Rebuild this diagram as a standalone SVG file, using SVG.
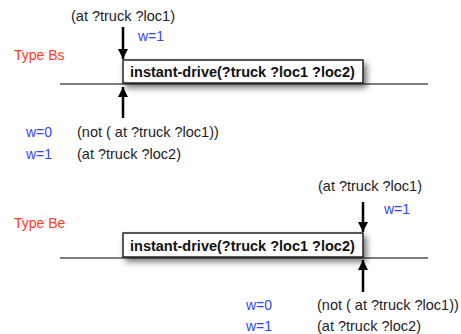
<svg xmlns="http://www.w3.org/2000/svg" width="461" height="334" viewBox="0 0 461 334">
<style>
.t{font-family:"Liberation Sans",Arial,sans-serif;font-size:14.5px;fill:#222}
.b{font-family:"Liberation Sans",Arial,sans-serif;font-size:14.5px;font-weight:bold;fill:#111}
.w{font-family:"Liberation Sans",Arial,sans-serif;font-size:14px;fill:#3344ff}
.r{font-family:"Liberation Sans",Arial,sans-serif;font-size:14px;fill:#ff3a1f}
.ln{stroke:#555;stroke-width:1.5}
.ar{stroke:#000;stroke-width:2.5;fill:none}
.box{fill:#fff;stroke:#222;stroke-width:1.5}
</style>
<defs>
<filter id="sh" x="-10%" y="-50%" width="120%" height="220%">
<feDropShadow dx="3" dy="4" stdDeviation="3" flood-color="#000" flood-opacity="0.55"/>
</filter>
<marker id="ah" viewBox="0 0 10 14" refX="10" refY="7" markerWidth="10" markerHeight="14" markerUnits="userSpaceOnUse" orient="auto">
<path d="M0,2 L10,7 L0,12 z" fill="#000"/>
</marker>
</defs>
<g id="connectors">
<line class="ln" x1="60" y1="84" x2="428" y2="84"/>
<line class="ln" x1="60" y1="258" x2="428" y2="258"/>
<line class="ar" x1="123" y1="27" x2="123" y2="59" marker-end="url(#ah)"/>
<line class="ar" x1="123" y1="118" x2="123" y2="87" marker-end="url(#ah)"/>
<line class="ar" x1="363" y1="202" x2="363" y2="232" marker-end="url(#ah)"/>
<line class="ar" x1="363" y1="292" x2="363" y2="260" marker-end="url(#ah)"/>
</g>
<g id="typeBs">
<text class="r" x="14" y="60">Type Bs</text>
<text class="t" x="71" y="21">(at ?truck ?loc1)</text>
<text class="w" x="138" y="41">w=1</text>
<g id="node-bs">
<rect class="box" x="123" y="60" width="240" height="23" filter="url(#sh)"/>
<text class="b" x="130" y="77">instant-drive(?truck ?loc1 ?loc2)</text>
</g>
<text class="w" x="26" y="137">w=0</text>
<text class="t" x="77" y="137">(not ( at ?truck ?loc1))</text>
<text class="w" x="26" y="159">w=1</text>
<text class="t" x="77" y="159">(at ?truck ?loc2)</text>
</g>
<g id="typeBe">
<text class="r" x="14" y="228">Type Be</text>
<text class="t" x="318" y="191">(at ?truck ?loc1)</text>
<text class="w" x="384" y="214">w=1</text>
<g id="node-be">
<rect class="box" x="123" y="233" width="240" height="24" filter="url(#sh)"/>
<text class="b" x="130" y="251">instant-drive(?truck ?loc1 ?loc2)</text>
</g>
<text class="w" x="246" y="310">w=0</text>
<text class="t" x="317" y="310">(not ( at ?truck ?loc1))</text>
<text class="w" x="246" y="331">w=1</text>
<text class="t" x="317" y="331">(at ?truck ?loc2)</text>
</g>
</svg>
